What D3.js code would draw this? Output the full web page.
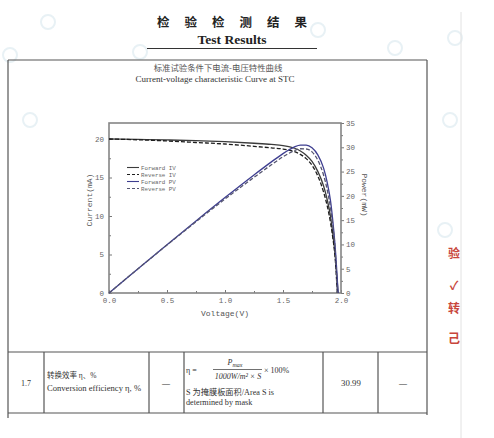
<!DOCTYPE html>
<html>
<head>
<meta charset="utf-8">
<script src="https://cdn.jsdelivr.net/npm/d3@7"></script>
<style>
  body { margin: 0; background: #fff; }
  svg { display: block; }
  .tick text { font-family: "Liberation Mono", monospace; font-size: 7.5px; fill: #666; }
  .tick line { stroke: #777; }
</style>
</head>
<body>
<script>
// voltages (V)
const voltsF = [0, 0.25, 0.5, 0.75, 1.0, 1.25, 1.4, 1.5, 1.55, 1.6, 1.65, 1.7, 1.75, 1.8, 1.85, 1.88, 1.91, 1.93, 1.95, 1.975];
const voltsR = [0, 0.25, 0.5, 0.75, 1.0, 1.25, 1.4, 1.5, 1.55, 1.6, 1.65, 1.7, 1.75, 1.8, 1.85, 1.88, 1.91, 1.93, 1.95, 1.968];
// current (mA)
const forwardIV = [20.0, 19.95, 19.88, 19.78, 19.65, 19.45, 19.3, 19.15, 19.0, 18.8, 18.45, 17.9, 17.1, 15.8, 13.9, 12.2, 9.9, 7.6, 4.8, 0];
const reverseIV = [20.0, 19.9, 19.75, 19.55, 19.35, 19.05, 18.85, 18.7, 18.55, 18.35, 18.0, 17.45, 16.6, 15.2, 13.1, 11.4, 9.1, 7.1, 4.5, 0];
// power (mW)
const forwardPV = [0, 4.99, 9.94, 14.84, 19.65, 24.31, 27.0, 28.7, 29.45, 30.1, 30.45, 30.45, 29.9, 28.45, 25.7, 22.9, 18.9, 14.7, 9.4, 0];
const reversePV = [0, 4.98, 9.88, 14.66, 19.35, 23.8, 26.4, 28.05, 28.75, 29.35, 29.7, 29.65, 29.05, 27.35, 24.25, 21.4, 17.4, 13.7, 8.8, 0];

const xTicks = [0, 0.5, 1.0, 1.5, 2.0],
      xMinor = [0.25, 0.75, 1.25, 1.75],
      iTicks = [0, 5, 10, 15, 20],
      iMinor = [2.5, 7.5, 12.5, 17.5],
      pTicks = [0, 5, 10, 15, 20, 25, 30, 35],
      pMinor = [2.5, 7.5, 12.5, 17.5, 22.5, 27.5, 32.5];

const legendNames = ['Forward IV', 'Reverse IV', 'Forward PV', 'Reverse PV'];

const svg = d3.select('body').append('svg')
    .attr('width', 494)
    .attr('height', 438);

// faint watermarks
const marks = [[48, 22], [140, 52], [318, 30], [455, 38], [10, 55], [395, 48], [450, 120], [30, 120], [445, 230]];
svg.append('g').selectAll('circle')
  .data(marks).enter().append('circle')
    .attr('cx', d => d[0]).attr('cy', d => d[1]).attr('r', 7)
    .attr('fill', 'none').attr('stroke', '#e8f1f5').attr('stroke-width', 2);

// page edge
svg.append('line').attr('x1', 461).attr('x2', 461).attr('y1', 12).attr('y2', 438)
    .attr('stroke', '#e2e2e2');

// heading
svg.append('text').attr('x', 232).attr('y', 27).attr('text-anchor', 'middle')
    .style('font-family', '"Noto Sans CJK SC"').style('font-weight', 'bold')
    .style('font-size', '12.5px').style('letter-spacing', '15px').attr('fill', '#222')
    .text('检验检测结果').attr('dx', 7.5);
svg.append('text').attr('x', 232).attr('y', 44).attr('text-anchor', 'middle')
    .style('font-family', '"Liberation Serif"').style('font-weight', 'bold')
    .style('font-size', '13.5px').attr('fill', '#222')
    .text('Test Results');
svg.append('line').attr('x1', 147).attr('x2', 317).attr('y1', 48.5).attr('y2', 48.5)
    .attr('stroke', '#333').attr('stroke-width', 1);

// table box
const box = svg.append('g').attr('stroke', '#555').attr('stroke-width', 1.2).attr('fill', 'none');
box.append('line').attr('x1', 8).attr('x2', 427).attr('y1', 60).attr('y2', 60);
box.append('line').attr('x1', 8).attr('x2', 8).attr('y1', 60).attr('y2', 418);
box.append('line').attr('x1', 427).attr('x2', 427).attr('y1', 60).attr('y2', 415);
box.append('line').attr('x1', 8).attr('x2', 427).attr('y1', 352).attr('y2', 352);
box.append('line').attr('x1', 8).attr('x2', 427).attr('y1', 413).attr('y2', 413);
[44, 149, 184, 323, 378].forEach(x => {
  box.append('line').attr('x1', x).attr('x2', x).attr('y1', 352).attr('y2', 413);
});

// chart titles
svg.append('text').attr('x', 218).attr('y', 71).attr('text-anchor', 'middle')
    .style('font-family', '"Noto Sans CJK SC"').style('font-size', '8.4px').attr('fill', '#555')
    .text('标准试验条件下电流-电压特性曲线');
svg.append('text').attr('x', 215).attr('y', 82).attr('text-anchor', 'middle')
    .style('font-family', '"Liberation Serif"').style('font-size', '9px').attr('fill', '#333')
    .text('Current-voltage characteristic Curve at STC');

// plot
const x = d3.scaleLinear().domain([0, 2]).range([109, 341]);
const yI = d3.scaleLinear().domain([0, 22.08]).range([293, 123]);
const yP = d3.scaleLinear().domain([0, 35]).range([293, 123]);

const plot = svg.append('g');

plot.append('g').attr('transform', 'translate(0,293)')
    .call(d3.axisBottom(x).tickValues(xTicks).tickSizeInner(-3).tickSizeOuter(0).tickPadding(5)
      .tickFormat(d3.format('.1f')));
plot.append('g').attr('transform', 'translate(0,293)')
    .call(d3.axisBottom(x).tickValues(xMinor).tickSizeInner(-2).tickSizeOuter(0).tickFormat(''));

plot.append('g').attr('transform', 'translate(109,0)')
    .call(d3.axisLeft(yI).tickValues(iTicks).tickSizeInner(-3).tickSizeOuter(0).tickPadding(5));
plot.append('g').attr('transform', 'translate(109,0)')
    .call(d3.axisLeft(yI).tickValues(iMinor).tickSizeInner(-2).tickSizeOuter(0).tickFormat(''));

plot.append('g').attr('transform', 'translate(341,0)')
    .call(d3.axisRight(yP).tickValues(pTicks).tickSizeInner(3).tickSizeOuter(0).tickPadding(2));
plot.append('g').attr('transform', 'translate(341,0)')
    .call(d3.axisRight(yP).tickValues(pMinor).tickSizeInner(2).tickSizeOuter(0).tickFormat(''));

plot.selectAll('.domain').remove();

plot.append('rect').attr('x', 109).attr('y', 123).attr('width', 232).attr('height', 170)
    .attr('fill', 'none').attr('stroke', '#858585').attr('stroke-width', 1.6);

const series = [
  { v: voltsF, vals: forwardIV, y: yI, color: '#3c3c3c', dash: null },
  { v: voltsR, vals: reverseIV, y: yI, color: '#1e1e1e', dash: '4,2' },
  { v: voltsF, vals: forwardPV, y: yP, color: '#3e3e90', dash: null },
  { v: voltsR, vals: reversePV, y: yP, color: '#555570', dash: '4,2' }
];

series.forEach(s => {
  const line = d3.line()
      .x((d, i) => x(s.v[i]))
      .y(d => s.y(d))
      .curve(d3.curveMonotoneX);
  plot.append('path')
      .datum(s.vals)
      .attr('d', line)
      .attr('fill', 'none')
      .attr('stroke', s.color)
      .attr('stroke-width', 1.3)
      .attr('stroke-dasharray', s.dash);
});

// legend
const legend = plot.append('g').attr('transform', 'translate(127,167.5)');
legendNames.forEach((name, i) => {
  const g = legend.append('g').attr('transform', `translate(0,${i * 7})`);
  g.append('line').attr('x1', 0).attr('x2', 12).attr('y1', 0).attr('y2', 0)
      .attr('stroke', series[i].color).attr('stroke-width', 1.1)
      .attr('stroke-dasharray', series[i].dash ? '3,2' : null);
  g.append('text').attr('x', 14).attr('y', 2)
      .style('font-family', '"Liberation Mono", monospace').style('font-size', '5.8px')
      .attr('fill', '#666').text(name);
});

// axis titles
plot.append('text').attr('x', 225).attr('y', 316).attr('text-anchor', 'middle')
    .style('font-family', '"Liberation Mono", monospace').style('font-size', '8px').attr('fill', '#555')
    .text('Voltage(V)');
plot.append('text').attr('transform', 'translate(92,200) rotate(-90)').attr('text-anchor', 'middle')
    .style('font-family', '"Liberation Mono", monospace').style('font-size', '8px').attr('fill', '#555')
    .text('Current(mA)');
plot.append('text').attr('transform', 'translate(362,195) rotate(90)').attr('text-anchor', 'middle')
    .style('font-family', '"Liberation Mono", monospace').style('font-size', '8px').attr('fill', '#555')
    .text('Power(mW)');

// table row
const serif = '"Liberation Serif", "Noto Sans CJK SC"';
const row = svg.append('g').style('font-family', serif).style('font-size', '8px').attr('fill', '#333');
row.append('text').attr('x', 26).attr('y', 386).attr('text-anchor', 'middle').text('1.7');
row.append('text').attr('x', 47).attr('y', 378).style('font-size', '7.5px').text('转换效率 η、%');
row.append('text').attr('x', 47).attr('y', 391).style('font-size', '8.6px').text('Conversion efficiency η, %');
row.append('text').attr('x', 166).attr('y', 386).attr('text-anchor', 'middle').text('—');
row.append('text').attr('x', 186).attr('y', 373).text('η =');
row.append('text').attr('x', 235).attr('y', 365).attr('text-anchor', 'middle')
    .style('font-style', 'italic').text('P').append('tspan').attr('dy', 1.5).style('font-size', '6px').text('max');
row.append('line').attr('x1', 213).attr('x2', 262).attr('y1', 369.5).attr('y2', 369.5)
    .attr('stroke', '#333').attr('stroke-width', 0.7);
row.append('text').attr('x', 238).attr('y', 379).attr('text-anchor', 'middle')
    .style('font-style', 'italic').text('1000W/m² × S');
row.append('text').attr('x', 264).attr('y', 373).text('× 100%');
row.append('text').attr('x', 186).attr('y', 395).style('font-size', '8.2px').text('S 为掩膜板面积/Area S is');
row.append('text').attr('x', 186).attr('y', 405).style('font-size', '8.2px').text('determined by mask');
row.append('text').attr('x', 351).attr('y', 386).attr('text-anchor', 'middle').style('font-size', '8.8px').text('30.99');
row.append('text').attr('x', 403).attr('y', 386).attr('text-anchor', 'middle').text('—');

// seam stamp
const stamp = svg.append('g').style('font-family', '"Noto Sans CJK SC"').attr('fill', '#c8463c')
    .style('font-size', '12px').style('font-weight', 'bold').attr('text-anchor', 'middle');
[['验', 258], ['✓', 290], ['转', 313], ['己', 343]].forEach(d => {
  stamp.append('text').attr('x', 454).attr('y', d[1]).text(d[0]);
});
</script>
</body>
</html>
